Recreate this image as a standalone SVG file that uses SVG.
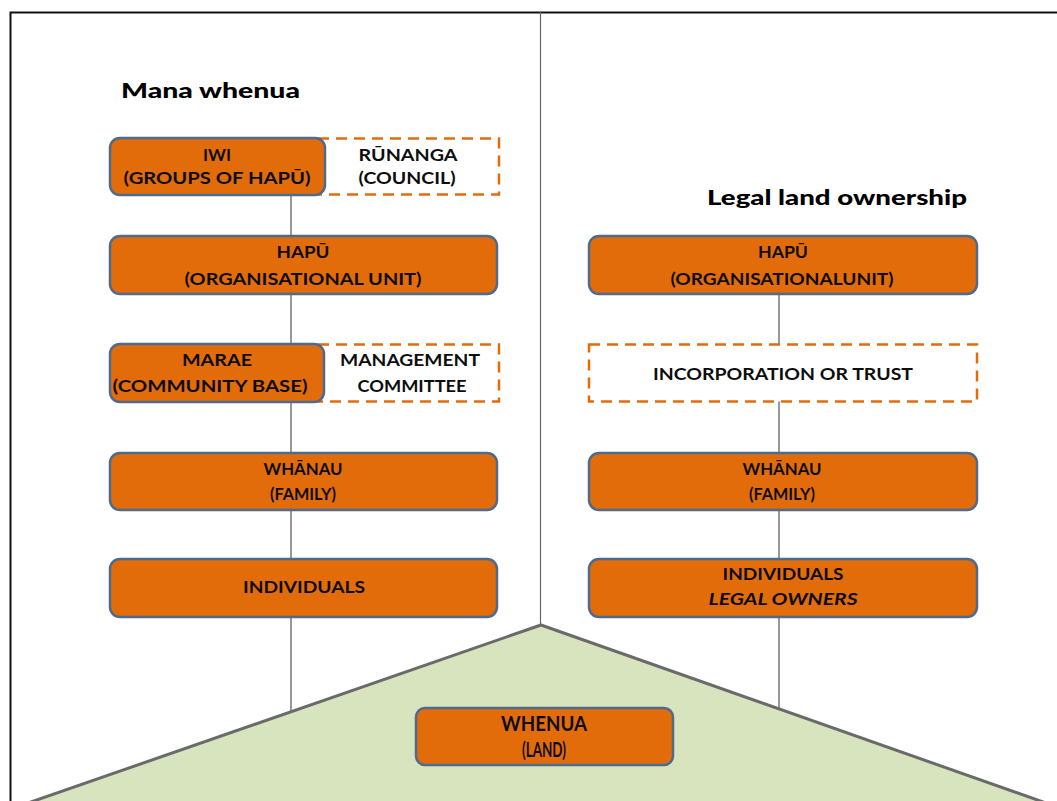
<svg xmlns="http://www.w3.org/2000/svg" width="1057" height="801" viewBox="0 0 1057 801">
  <style>
    .box { fill: #E36C0A; stroke: #4E6B8E; stroke-width: 2.5; }
    .dash { fill: #FFFFFF; stroke: #E36C0A; stroke-width: 2.5; stroke-dasharray: 11 7; }
    .lbl { font-family: Lato, "Liberation Sans", sans-serif; font-weight: 700; font-size: 17px; fill: #0D0D0D; text-anchor: middle; }
    .land { font-family: Lato, "Liberation Sans", sans-serif; font-weight: 700; font-size: 21px; fill: #0D0D0D; text-anchor: middle; }
    .ttl { font-family: Lato, "Liberation Sans", sans-serif; font-weight: 900; font-size: 21px; fill: #000000; }
    .link { stroke: #555555; stroke-width: 1.2; fill: none; }
  </style>

  <rect width="1057" height="801" fill="#FFFFFF"/>
  <!-- frame and central divider -->
  <path d="M10.5 801 V12.5 H1057" fill="none" stroke="#111111" stroke-width="2"/>
  <line x1="540.5" y1="12" x2="540.5" y2="625" stroke="#666666" stroke-width="1.2"/>

  <!-- connectors -->
  <g id="connectors">
    <line class="link" x1="291" y1="195" x2="291" y2="712"/>
    <line class="link" x1="779" y1="294" x2="779" y2="708"/>
  </g>

  <!-- land -->
  <g id="land">
    <polygon points="541,625 28,803 1046,803" fill="#D7E4BD" stroke="#6A6A6A" stroke-width="3" stroke-linejoin="round"/>
  </g>

  <text class="ttl" x="121" y="98" textLength="179" lengthAdjust="spacingAndGlyphs">Mana whenua</text>
  <text class="ttl" x="707" y="205" textLength="260" lengthAdjust="spacingAndGlyphs">Legal land ownership</text>

  <!-- left column -->
  <g id="runanga">
    <rect class="dash" x="318" y="138.5" width="181" height="56"/>
    <text class="lbl" x="408" y="161" textLength="99" lengthAdjust="spacingAndGlyphs">RŪNANGA</text>
    <text class="lbl" x="407" y="184" textLength="97" lengthAdjust="spacingAndGlyphs">(COUNCIL)</text>
  </g>
  <g id="iwi">
    <rect class="box" x="110" y="138" width="215" height="57" rx="10"/>
    <text class="lbl" x="217" y="161" textLength="28" lengthAdjust="spacingAndGlyphs">IWI</text>
    <text class="lbl" x="217" y="184" textLength="187" lengthAdjust="spacingAndGlyphs">(GROUPS OF HAPŪ)</text>
  </g>
  <g id="hapu-left">
    <rect class="box" x="110" y="236" width="387" height="58" rx="10"/>
    <text class="lbl" x="303" y="258" textLength="53" lengthAdjust="spacingAndGlyphs">HAPŪ</text>
    <text class="lbl" x="303" y="285" textLength="237" lengthAdjust="spacingAndGlyphs">(ORGANISATIONAL UNIT)</text>
  </g>
  <g id="committee">
    <rect class="dash" x="318" y="344.5" width="181" height="57"/>
    <text class="lbl" x="410" y="366" textLength="140" lengthAdjust="spacingAndGlyphs">MANAGEMENT</text>
    <text class="lbl" x="412" y="392" textLength="109" lengthAdjust="spacingAndGlyphs">COMMITTEE</text>
  </g>
  <g id="marae">
    <rect class="box" x="110" y="344" width="214" height="58" rx="10"/>
    <text class="lbl" x="217" y="366" textLength="70" lengthAdjust="spacingAndGlyphs">MARAE</text>
    <text class="lbl" x="210" y="392" textLength="195" lengthAdjust="spacingAndGlyphs">(COMMUNITY BASE)</text>
  </g>
  <g id="whanau-left">
    <rect class="box" x="110" y="453" width="387" height="57" rx="10"/>
    <text class="lbl" x="303" y="475" textLength="79" lengthAdjust="spacingAndGlyphs">WHĀNAU</text>
    <text class="lbl" x="303" y="500" textLength="66" lengthAdjust="spacingAndGlyphs">(FAMILY)</text>
  </g>
  <g id="individuals-left">
    <rect class="box" x="110" y="559" width="387" height="58" rx="10"/>
    <text class="lbl" x="304" y="593" textLength="122" lengthAdjust="spacingAndGlyphs">INDIVIDUALS</text>
  </g>

  <!-- right column -->
  <g id="hapu-right">
    <rect class="box" x="589" y="236" width="388" height="58" rx="10"/>
    <text class="lbl" x="783" y="258" textLength="50" lengthAdjust="spacingAndGlyphs">HAPŪ</text>
    <text class="lbl" x="782" y="285" textLength="223" lengthAdjust="spacingAndGlyphs">(ORGANISATIONALUNIT)</text>
  </g>
  <g id="incorporation">
    <rect class="dash" x="589" y="344.5" width="388" height="57"/>
    <text class="lbl" x="783" y="380" textLength="260" lengthAdjust="spacingAndGlyphs">INCORPORATION OR TRUST</text>
  </g>
  <g id="whanau-right">
    <rect class="box" x="589" y="453" width="388" height="57" rx="10"/>
    <text class="lbl" x="782" y="475" textLength="79" lengthAdjust="spacingAndGlyphs">WHĀNAU</text>
    <text class="lbl" x="782" y="500" textLength="66" lengthAdjust="spacingAndGlyphs">(FAMILY)</text>
  </g>
  <g id="individuals-right">
    <rect class="box" x="589" y="559" width="388" height="58" rx="10"/>
    <text class="lbl" x="783" y="580" textLength="121" lengthAdjust="spacingAndGlyphs">INDIVIDUALS</text>
    <text class="lbl" x="783" y="605" font-style="italic" textLength="149" lengthAdjust="spacingAndGlyphs">LEGAL OWNERS</text>
  </g>

  <!-- whenua -->
  <g id="whenua">
    <rect class="box" x="416" y="708" width="257" height="57" rx="9"/>
    <text class="land" x="544" y="731" textLength="86" lengthAdjust="spacingAndGlyphs">WHENUA</text>
    <text class="land" x="544" y="757" textLength="44" lengthAdjust="spacingAndGlyphs">(LAND)</text>
  </g>
</svg>
